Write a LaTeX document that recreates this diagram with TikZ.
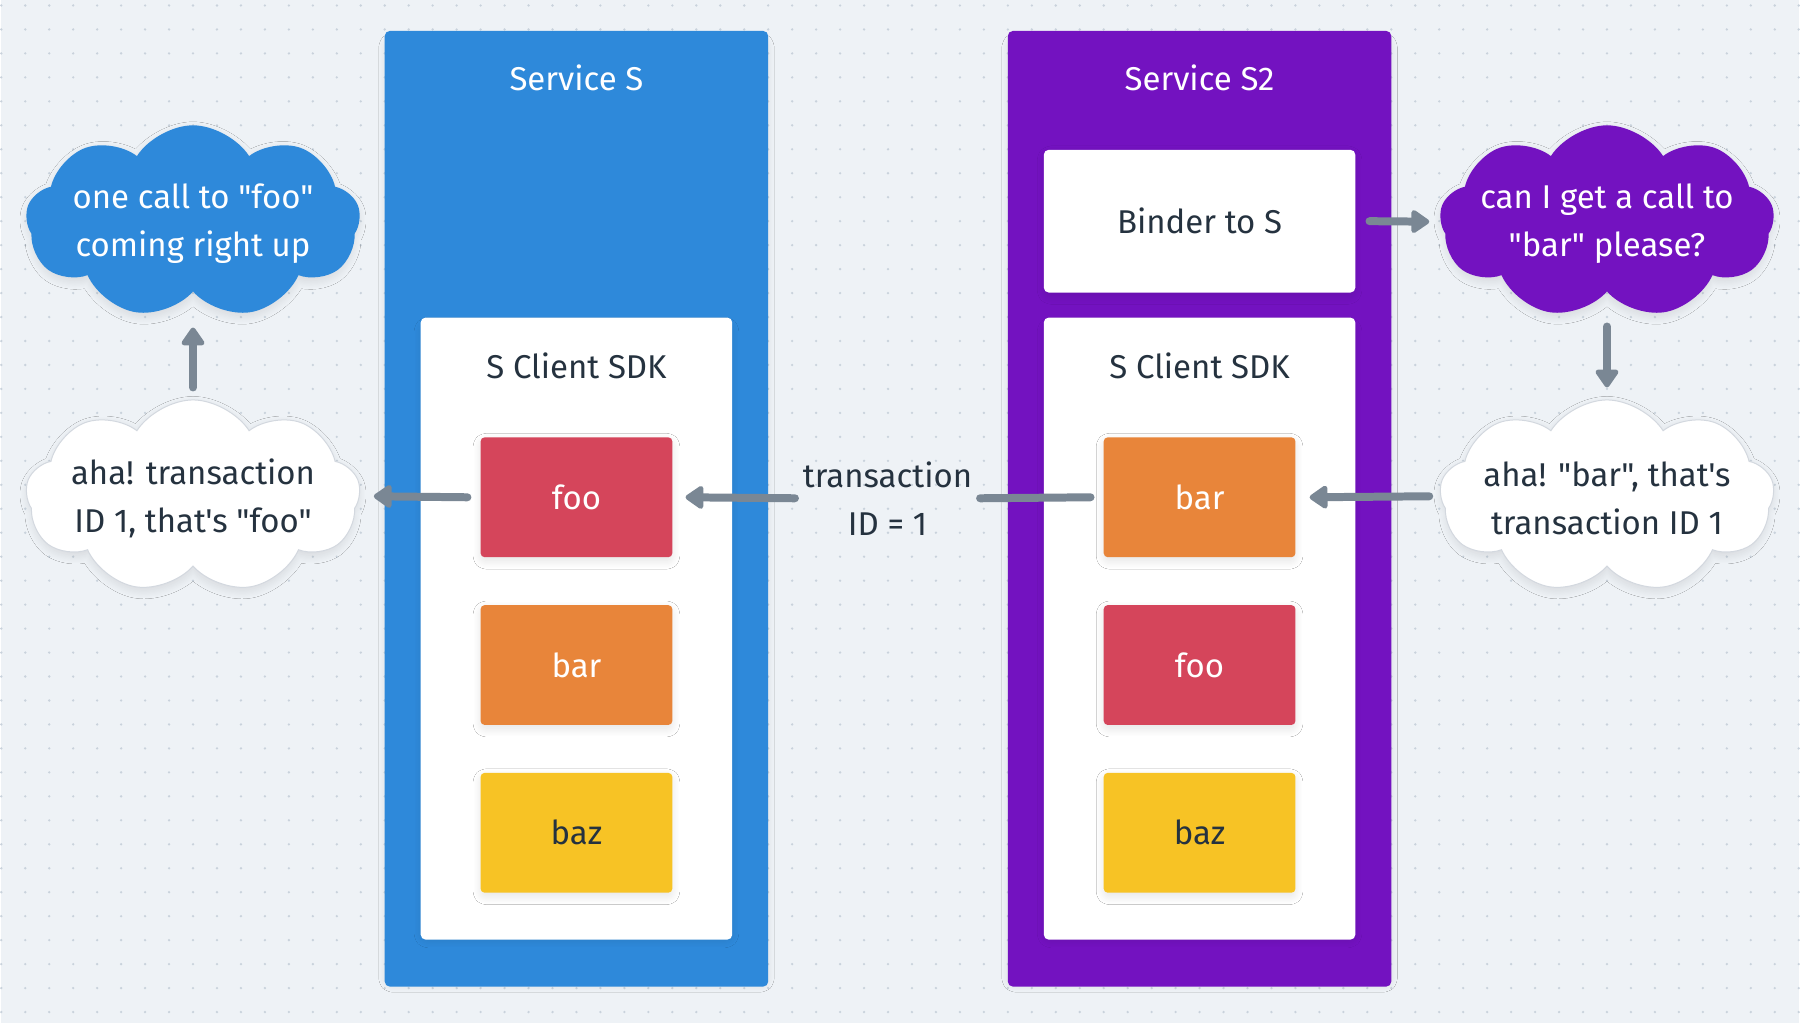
\documentclass[tikz,border=0pt]{standalone}
\usepackage{fontspec}
\setmainfont{Fira Sans}[Ligatures=TeXOff]
\usetikzlibrary{arrows.meta,shapes.symbols,shadows.blur}
\definecolor{bg}{HTML}{EEF2F6}
\definecolor{dotc}{HTML}{C9D2DC}
\definecolor{sblue}{HTML}{2E89DA}
\definecolor{spurple}{HTML}{7312C0}
\definecolor{mred}{HTML}{D5455B}
\definecolor{morange}{HTML}{E8853A}
\definecolor{myellow}{HTML}{F7C325}
\definecolor{dtext}{HTML}{25323F}
\definecolor{arrowc}{HTML}{7A8794}
\definecolor{cloudline}{HTML}{D3D8DF}
\begin{document}
\begin{tikzpicture}[x=1pt,y=-1pt,
  txt/.style={font=\fontsize{33}{48}\selectfont, align=center, inner sep=0pt},
  shad/.style={blur shadow={shadow xshift=0pt, shadow yshift=-4pt, shadow opacity=12, shadow blur radius=9pt, shadow blur steps=24, shadow scale=0.985}},
  svcbox/.style={shad, rounded corners=5pt, minimum width=384pt, minimum height=957pt, inner sep=0pt},
  whitebox/.style={shad, fill=white, rounded corners=5pt, minimum width=312pt, inner sep=0pt},
  methbox/.style={shad, rounded corners=4pt, minimum width=192pt, minimum height=120pt, inner sep=0pt, txt},
  cloudshape/.style={cloud, cloud puffs=9, cloud puff arc=115, aspect=1.75, minimum width=335pt, minimum height=193pt, inner sep=0pt, shad},
  arr/.style={draw=arrowc, line width=8pt, line cap=round, line join=round, -{Triangle[width=26pt,length=20pt,round]}},
  conn/.style={draw=arrowc, line width=8pt, line cap=round}
]
% background
\fill[bg] (0,0) rectangle (1800,1024);
\foreach \j in {0,...,42}{
  \draw[dotc, line width=2.6pt, line cap=round, dash pattern=on 0pt off 24pt] (0,5.5+24*\j) -- (1800,5.5+24*\j);
}

% services
\node[svcbox, fill=sblue] (svcS) at (576,509.5) {};
\node[svcbox, fill=spurple] (svcT) at (1200,509.5) {};
\node[txt, text=white] (titleS) at (576,78) {Service S};
\node[txt, text=white] (titleT) at (1200,78) {Service S2};

% SDK boxes
\node[whitebox, minimum height=623pt] (sdkS) at (576,629.5) {};
\node[whitebox, minimum height=623pt] (sdkT) at (1200,629.5) {};
\node[txt, text=dtext] (sdkSl) at (576,366) {S Client SDK};
\node[txt, text=dtext] (sdkTl) at (1200,366) {S Client SDK};

% binder
\node[whitebox, minimum height=143pt, txt, text=dtext] (binder) at (1200,221.5) {Binder to S};

% methods
\node[methbox, fill=mred, text=white] (fooL) at (576,498) {foo};
\node[methbox, fill=morange, text=white] (barL) at (576,666) {bar};
\node[methbox, fill=myellow, text=dtext] (bazL) at (576,834) {baz};
\node[methbox, fill=morange, text=white] (barR) at (1200,498) {bar};
\node[methbox, fill=mred, text=white] (fooR) at (1200,666) {foo};
\node[methbox, fill=myellow, text=dtext] (bazR) at (1200,834) {baz};

% clouds
\node[cloudshape, fill=sblue] (cloudL) at (192,222) {};
\node[txt, text=white] (cloudLt) at (192,224) {one call to "foo"\\coming right up};
\node[cloudshape, fill=white, draw=cloudline, line width=1pt] (ahaL) at (192,497) {};
\node[txt, text=dtext] (ahaLt) at (192,499) {aha! transaction\\ID 1, that's "foo"};
\node[cloudshape, fill=spurple] (cloudR) at (1608,222) {};
\node[txt, text=white] (cloudRt) at (1608,224) {can I get a call to\\"bar" please?};
\node[cloudshape, fill=white, draw=cloudline, line width=1pt] (ahaR) at (1608,497) {};
\node[txt, text=dtext] (ahaRt) at (1608,499) {aha! "bar", that's\\transaction ID 1};

% transaction label
\node[txt, text=dtext, minimum width=185pt] (txn) at (887.5,499) {transaction\\ID = 1};

% connectors
\draw[arr] ([xshift=14pt]binder.east) -- ([xshift=-178pt]cloudR.center);
\draw[arr] ([yshift=-105pt]cloudR.center) -- ([yshift=109pt]ahaR.center);
\draw[arr] ([xshift=-178pt]ahaR.center) -- ([xshift=14pt]barR.east);
\draw[conn] ([xshift=-13pt]barR.west) -- (txn.east);
\draw[arr] (txn.west) -- ([xshift=13pt]fooL.east);
\draw[arr] ([xshift=-13pt]fooL.west) -- ([xshift=181pt]ahaL.center);
\draw[arr] ([yshift=109pt]ahaL.center) -- ([yshift=-106pt]cloudL.center);
\end{tikzpicture}
\end{document}
